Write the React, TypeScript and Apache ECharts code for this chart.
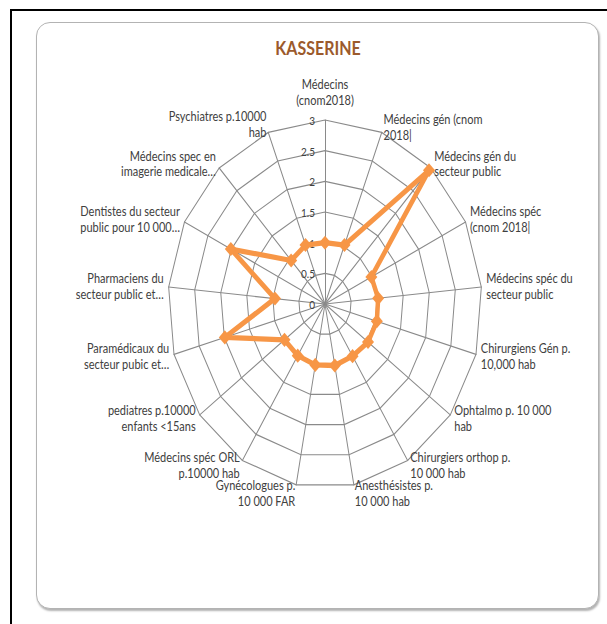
import React, { useEffect, useRef } from "react";
import * as echarts from "echarts";

const title = "KASSERINE";
const indicatorNames = [
  "Médecins\n(cnom2018)",
  "Médecins gén (cnom\n2018|",
  "Médecins gén du\nsecteur public",
  "Médecins spéc\n(cnom 2018|",
  "Médecins spéc du\nsecteur public",
  "Chirurgiens Gén p.\n10,000 hab",
  "Ophtalmo p. 10 000\nhab",
  "Chirurgiers orthop p.\n10 000 hab",
  "Anesthésistes p.\n10 000 hab",
  "Gynécologues p.\n10 000 FAR",
  "Médecins spéc ORL\np.10000 hab",
  "pediatres p.10000\nenfants <15ans",
  "Paramédicaux du\nsecteur pubic et…",
  "Pharmaciens du\nsecteur public et…",
  "Dentistes du secteur\npublic pour 10 000…",
  "Médecins spec en\nimagerie medicale…",
  "Psychiatres p.10000\nhab",
];
const values = [1.0, 1.03, 2.95, 0.99, 1.02, 1.03, 1.03, 1.0, 1.02, 1.01, 0.99, 0.97, 1.99, 0.96, 2.01, 0.96, 1.03];
const axisMax = 3;
const tickInterval = 0.5;
// labels pushed a little further out, as in the reference
const lowLabels = [indicatorNames[8], indicatorNames[9]];
const highLabels = [indicatorNames[0], indicatorNames[16]];

const SCALE_Y = 1.172;
const W = 607;
const H = 624 / SCALE_Y;

// ECharts radar lays indicators counter-clockwise; reorder to get clockwise
function clockwise<T>(arr: T[]): T[] {
  return [arr[0], ...arr.slice(1).reverse()];
}

export default function App() {
  const ref = useRef<HTMLDivElement>(null);
  useEffect(() => {
    if (!ref.current) return;
    const chart = echarts.init(ref.current, undefined, { renderer: "svg" });
    const font = "Lato, 'DejaVu Sans', sans-serif";
    const center = [325, 304 / SCALE_Y];
    const radius = 157;
    chart.setOption({
      animation: false,
      textStyle: { fontFamily: font },
      graphic: [
        {
          type: "text",
          x: 318,
          y: 48 / SCALE_Y,
          style: {
            text: title,
            font: `bold 16px ${font}`,
            fill: "#9b5a2c",
            textAlign: "center",
            textVerticalAlign: "middle",
          },
        },
      ],
      radar: {
        center,
        radius,
        startAngle: 90,
        splitNumber: 6,
        shape: "polygon",
        indicator: clockwise(indicatorNames).map((n) => ({ name: n, min: 0, max: axisMax })),
        axisName: {
          color: "#404040",
          fontSize: 11,
          fontFamily: font,
          lineHeight: 13.5,
          formatter: (name: string) => {
            const lines = name.split("\n").map((l) => `{n|${l}}`).join("\n");
            if (lowLabels.includes(name)) return `{sp| }\n${lines}`;
            if (highLabels.includes(name)) return `${lines}\n{sp| }`;
            return lines;
          },
          rich: {
            n: { fontSize: 11, lineHeight: 13.5, color: "#404040", fontFamily: font },
            sp: { fontSize: 1, lineHeight: 5 },
          },
        },
        nameGap: 5,
        splitLine: { lineStyle: { color: "#8a8a8a", width: 1 } },
        splitArea: { show: false },
        axisLine: { lineStyle: { color: "#8a8a8a", width: 1 } },
        axisTick: { show: false },
        axisLabel: { show: false },
      },
      polar: { center, radius },
      angleAxis: { type: "value", min: 0, max: 360, startAngle: 90, show: false },
      radiusAxis: {
        type: "value",
        min: 0,
        max: axisMax,
        interval: tickInterval,
        axisLine: { show: false },
        axisTick: { show: false },
        splitLine: { show: false },
        axisLabel: {
          color: "#404040",
          fontSize: 10,
          fontFamily: font,
          margin: 0,
          align: "right",
          padding: [0, 10, 0, 0],
        },
      },
      series: [
        {
          type: "radar",
          symbol: "diamond",
          symbolSize: 12,
          lineStyle: { color: "#f79646", width: 4.5 },
          itemStyle: { color: "#f79646" },
          data: [{ value: clockwise(values), name: title }],
        },
      ],
    });
    return () => chart.dispose();
  }, []);

  return (
    <div style={{ position: "fixed", left: 0, top: 0, width: 607, height: 624, background: "#fff", overflow: "hidden" }}>
      <div style={{ position: "absolute", left: 10, top: 9, width: 640, height: 660, border: "2px solid #000" }} />
      <div
        style={{
          position: "absolute",
          left: 36,
          top: 22,
          width: 561,
          height: 585,
          border: "1px solid #b3b3b3",
          borderRadius: 14,
          background: "#fff",
          boxShadow: "1px 2px 2px rgba(0,0,0,0.3)",
        }}
      />
      <div
        ref={ref}
        style={{
          position: "absolute",
          left: 0,
          top: 0,
          width: W,
          height: H,
          transform: `scaleY(${SCALE_Y})`,
          transformOrigin: "0 0",
        }}
      />
    </div>
  );
}
